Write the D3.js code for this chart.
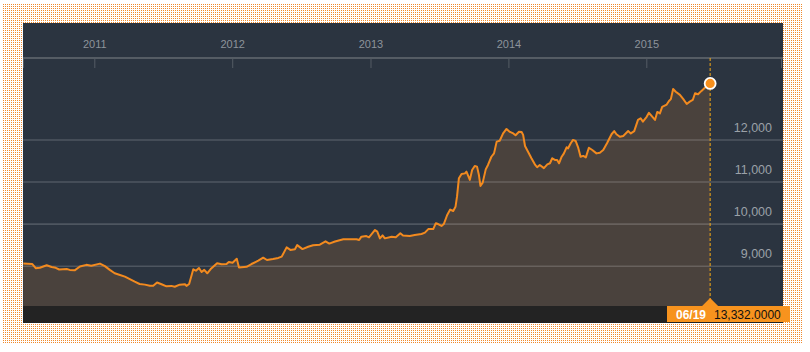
<!DOCTYPE html>
<html>
<head>
<meta charset="utf-8">
<script src="https://cdn.jsdelivr.net/npm/d3@7"></script>
<style>
  html, body { margin: 0; padding: 0; background: #ffffff; }
  svg { display: block; font-family: "Liberation Sans", Arial, sans-serif; }
</style>
</head>
<body>
<svg id="chart" width="810" height="352"></svg>
<script>
const dates = ["2010-06-27","2010-07-21","2010-07-30","2010-08-10","2010-08-28","2010-09-10","2010-09-21","2010-09-30","2010-10-20","2010-10-28","2010-11-10","2010-11-24","2010-12-11","2010-12-24",
"2011-01-16","2011-01-29","2011-02-11","2011-02-24","2011-03-10","2011-03-23","2011-04-05","2011-04-18","2011-05-01","2011-05-15","2011-05-28","2011-06-06","2011-06-16","2011-06-28","2011-07-11","2011-07-24","2011-08-02","2011-08-15","2011-08-29","2011-09-02","2011-09-09","2011-09-20","2011-09-27","2011-10-05","2011-10-12","2011-10-19","2011-10-27","2011-11-05","2011-11-22","2011-12-04","2011-12-17","2011-12-23",
"2012-01-02","2012-01-13","2012-01-19","2012-02-08","2012-02-21","2012-03-10","2012-03-23","2012-04-02","2012-04-18","2012-05-02","2012-05-11","2012-05-24","2012-06-03","2012-06-15","2012-06-21","2012-07-05","2012-07-20","2012-08-02","2012-08-20","2012-09-04","2012-09-14","2012-09-29","2012-10-21","2012-11-25","2012-12-02","2012-12-08","2012-12-21","2012-12-28",
"2013-01-13","2013-01-19","2013-01-26","2013-02-02","2013-02-08","2013-02-26","2013-03-09","2013-03-21","2013-03-28","2013-04-15","2013-04-28","2013-05-16","2013-05-25","2013-06-03","2013-06-16","2013-06-23","2013-06-29","2013-07-08","2013-07-14","2013-07-23","2013-07-31","2013-08-08","2013-08-14","2013-08-18","2013-08-23","2013-08-30","2013-09-08","2013-09-12","2013-09-21","2013-09-27","2013-10-04","2013-10-10","2013-10-15","2013-10-19","2013-10-25","2013-11-02","2013-11-08","2013-11-17","2013-11-24","2013-12-01","2013-12-09","2013-12-18","2013-12-27",
"2014-01-05","2014-01-14","2014-01-20","2014-01-29","2014-02-05","2014-02-09","2014-02-14","2014-02-22","2014-03-03","2014-03-12","2014-03-18","2014-03-25","2014-04-05","2014-04-14","2014-04-21","2014-04-27","2014-05-04","2014-05-10","2014-05-15","2014-05-22","2014-05-28","2014-06-04","2014-06-08","2014-06-15","2014-06-21","2014-06-28","2014-07-05","2014-07-11","2014-07-18","2014-07-25","2014-08-02","2014-08-11","2014-08-22","2014-08-31","2014-09-09","2014-09-19","2014-10-01","2014-10-08","2014-10-14","2014-10-23","2014-11-01","2014-11-14","2014-11-21","2014-11-30","2014-12-10","2014-12-17","2014-12-23",
"2015-01-02","2015-01-08","2015-01-15","2015-01-24","2015-01-30","2015-02-06","2015-02-12","2015-02-24","2015-03-02","2015-03-07","2015-03-13","2015-03-20","2015-03-31","2015-04-09","2015-04-18","2015-04-26","2015-05-04","2015-05-10","2015-05-18","2015-05-27","2015-06-05","2015-06-19"];

const values = [9050,9040,8940,8950,9010,8970,8950,8910,8920,8900,8890,8980,9020,9000,
9050,8990,8900,8820,8780,8740,8680,8620,8565,8550,8525,8525,8600,8560,8510,8520,8500,8550,8560,8520,8565,8915,8880,8945,8850,8900,8820,8920,9060,9035,9040,9090,
9070,9165,8960,8975,9040,9120,9190,9135,9160,9185,9215,9435,9375,9390,9490,9395,9450,9485,9500,9580,9525,9575,9630,9630,9610,9690,9705,9675,
9850,9810,9650,9720,9650,9690,9675,9770,9720,9705,9730,9755,9785,9870,9870,10010,9990,9945,9990,10205,10335,10300,10400,10640,11080,11180,11195,11235,11040,11275,11370,11355,11155,10895,10975,11290,11395,11590,11670,11950,11970,12145,12250,
12180,12145,12100,12185,12180,12110,11845,11710,11555,11410,11340,11395,11320,11410,11435,11555,11515,11515,11435,11590,11670,11815,11790,11910,11990,11965,11800,11590,11610,11575,11805,11750,11670,11685,11750,11910,12125,12200,12125,12065,12085,12200,12145,12200,12465,12505,12425,
12540,12635,12560,12465,12655,12620,12775,12830,12915,12960,13200,13135,13060,12960,12845,12900,12940,13100,13075,13155,13230,13332];

const yearTicks = ["2011","2012","2013","2014","2015"];
const yTicks = [9000, 10000, 11000, 12000];
const lastLabelDate = "06/19";
const lastLabelValue = "13,332.0000";

const parse = d3.timeParse("%Y-%m-%d");
const data = dates.map((d, i) => ({ date: parse(d), value: values[i] }));

const svg = d3.select("#chart");

// dotted frame
const defs = svg.append("defs");
const pat = defs.append("pattern").attr("id", "dots").attr("patternUnits", "userSpaceOnUse")
  .attr("x", 1).attr("y", 0).attr("width", 2).attr("height", 2);
pat.append("rect").attr("width", 1).attr("height", 1).attr("fill", "#f08a2c")
  .attr("shape-rendering", "crispEdges");
svg.append("rect").attr("x", 3).attr("y", 4).attr("width", 799).attr("height", 339)
  .attr("fill", "url(#dots)").attr("shape-rendering", "crispEdges");

const panel = { left: 23, top: 23, right: 783, bottom: 323 };
svg.append("rect").attr("x", panel.left).attr("y", panel.top)
  .attr("width", panel.right - panel.left).attr("height", panel.bottom - panel.top)
  .attr("fill", "#2b3440");

const x = d3.scaleTime()
  .domain([parse("2011-01-01"), parse("2015-01-01")])
  .range([94.3, 646.3]);
const y = d3.scaleLinear().domain([9000, 12000]).range([265.7, 139.5]);

const plotBottom = 306;

// area
const area = d3.area().x(d => x(d.date)).y0(plotBottom).y1(d => y(d.value));
svg.append("path").datum(data).attr("d", area).attr("fill", "#4a423d");

// grid lines + y labels
const yAxis = d3.axisLeft(y).tickValues(yTicks).tickFormat(d3.format(","))
  .tickSize(panel.right - panel.left).tickPadding(11);
const gy = svg.append("g").attr("transform", `translate(${panel.right},0)`).call(yAxis);
gy.select(".domain").remove();
gy.selectAll(".tick line").attr("stroke", "rgba(255,255,255,0.17)").attr("stroke-width", 1.6);
gy.selectAll(".tick text").attr("fill", "#9ba1a8").attr("font-size", 12.5)
  .attr("dy", null).attr("y", -8).attr("x", -11);

// line
const line = d3.line().x(d => x(d.date)).y(d => y(d.value));
svg.append("path").datum(data).attr("d", line).attr("fill", "none")
  .attr("stroke", "#f28a1f").attr("stroke-width", 2).attr("stroke-linejoin", "round");

// top axis
const axisY = 58;
svg.append("line").attr("x1", panel.left).attr("x2", panel.right).attr("y1", axisY).attr("y2", axisY)
  .attr("stroke", "#555c64").attr("stroke-width", 2);
[panel.left + 0.5, 781.5].forEach(px => {
  svg.append("line").attr("x1", px).attr("x2", px).attr("y1", axisY).attr("y2", axisY + 10)
    .attr("stroke", "#555c64").attr("stroke-width", 1);
});
const xAxis = d3.axisTop(x).tickValues(yearTicks.map(t => parse(t + "-01-01")))
  .tickFormat(d3.timeFormat("%Y")).tickSizeInner(-10).tickSizeOuter(0).tickPadding(10);
const gx = svg.append("g").attr("transform", `translate(0,${axisY})`).call(xAxis);
gx.select(".domain").remove();
gx.selectAll(".tick line").attr("stroke", "#555c64");
gx.selectAll(".tick text").attr("fill", "#8d939b").attr("font-size", 11);

// bottom dark strip
svg.append("rect").attr("x", panel.left).attr("y", plotBottom)
  .attr("width", panel.right - panel.left).attr("height", panel.bottom - plotBottom)
  .attr("fill", "#232323");

// last point marker
const last = data[data.length - 1];
const lx = x(last.date), ly = y(last.value);
svg.append("line").attr("x1", lx).attr("x2", lx).attr("y1", axisY).attr("y2", 300)
  .attr("stroke", "#f5a914").attr("stroke-width", 1).attr("stroke-dasharray", "3,2");
svg.append("circle").attr("cx", lx).attr("cy", ly).attr("r", 5.5)
  .attr("fill", "#f7901e").attr("stroke", "#ffffff").attr("stroke-width", 1.8);

// value label
const boxX = 667, boxW = 123;
svg.append("path").attr("d", `M${lx - 8},${plotBottom} L${lx},${298} L${lx + 8},${plotBottom} Z`).attr("fill", "#f7931e");
svg.append("rect").attr("x", boxX).attr("y", plotBottom).attr("width", boxW).attr("height", 16).attr("fill", "#f7931e");
svg.append("text").attr("x", 676).attr("y", 318.5).attr("fill", "#ffffff").attr("font-size", 12)
  .attr("font-weight", "bold").text(lastLabelDate);
svg.append("text").attr("x", 714).attr("y", 318.5).attr("fill", "#111111").attr("font-size", 12)
  .text(lastLabelValue);
</script>
</body>
</html>
